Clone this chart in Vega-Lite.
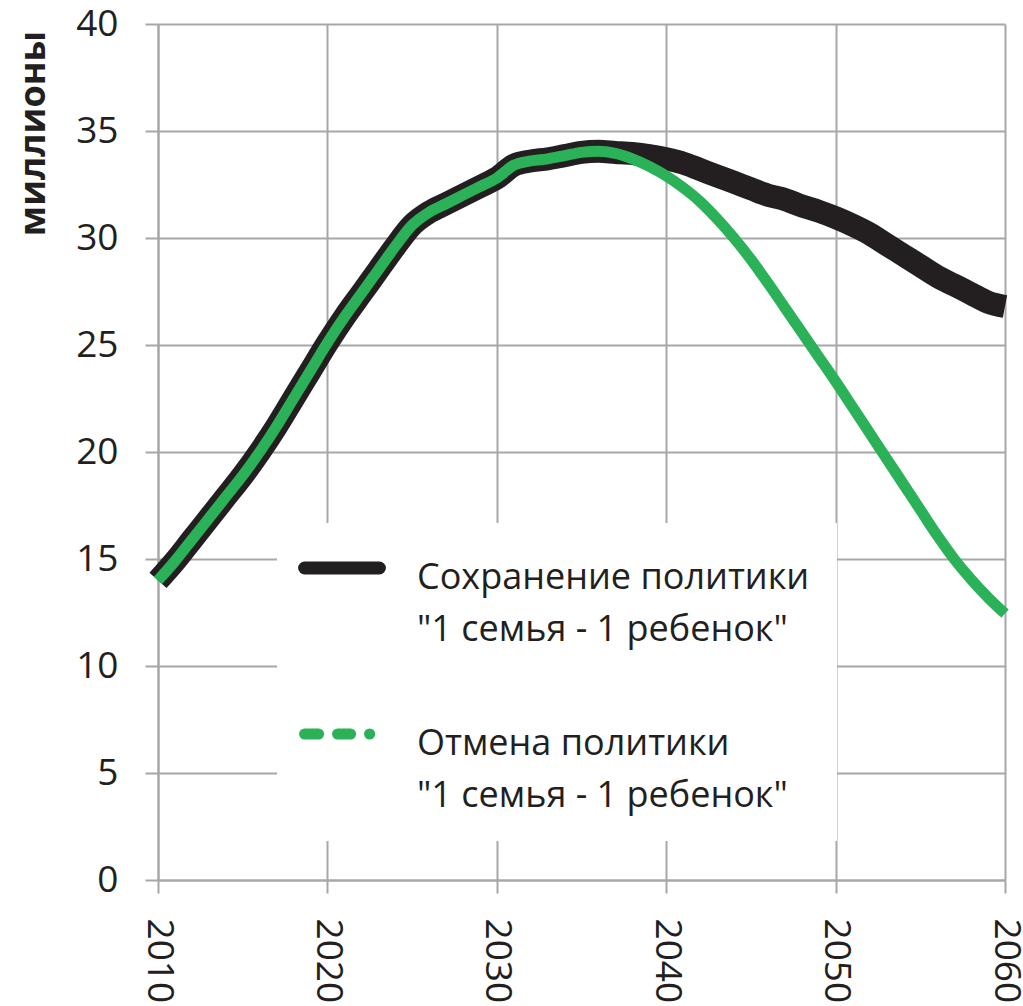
{
  "$schema": "https://vega.github.io/schema/vega-lite/v6.json",
  "autosize": "none",
  "width": 847,
  "height": 856,
  "padding": {"left": 158, "top": 24, "right": 18, "bottom": 126},
  "background": "white",
  "config": {
    "font": "Open Sans",
    "view": {"stroke": null},
    "axis": {
      "labelFont": "Open Sans",
      "labelFontSize": 37,
      "labelColor": "#231f20",
      "domainColor": "#a7a7a9",
      "domainWidth": 2,
      "tickColor": "#a7a7a9",
      "tickWidth": 2,
      "tickSize": 13,
      "gridColor": "#a7a7a9",
      "gridWidth": 2
    }
  },
  "data": {"values": [
    {"year": 2010, "s": "keep", "value": 14.0}, {"year": 2010, "s": "cancel", "value": 14.0},
    {"year": 2011, "s": "keep", "value": 14.9}, {"year": 2011, "s": "cancel", "value": 14.9},
    {"year": 2012, "s": "keep", "value": 15.9}, {"year": 2012, "s": "cancel", "value": 15.9},
    {"year": 2013, "s": "keep", "value": 16.9}, {"year": 2013, "s": "cancel", "value": 16.9},
    {"year": 2014, "s": "keep", "value": 17.9}, {"year": 2014, "s": "cancel", "value": 17.9},
    {"year": 2015, "s": "keep", "value": 18.9}, {"year": 2015, "s": "cancel", "value": 18.9},
    {"year": 2016, "s": "keep", "value": 20.0}, {"year": 2016, "s": "cancel", "value": 20.0},
    {"year": 2017, "s": "keep", "value": 21.2}, {"year": 2017, "s": "cancel", "value": 21.2},
    {"year": 2018, "s": "keep", "value": 22.5}, {"year": 2018, "s": "cancel", "value": 22.5},
    {"year": 2019, "s": "keep", "value": 23.8}, {"year": 2019, "s": "cancel", "value": 23.8},
    {"year": 2020, "s": "keep", "value": 25.1}, {"year": 2020, "s": "cancel", "value": 25.1},
    {"year": 2021, "s": "keep", "value": 26.3}, {"year": 2021, "s": "cancel", "value": 26.3},
    {"year": 2022, "s": "keep", "value": 27.4}, {"year": 2022, "s": "cancel", "value": 27.4},
    {"year": 2023, "s": "keep", "value": 28.5}, {"year": 2023, "s": "cancel", "value": 28.5},
    {"year": 2024, "s": "keep", "value": 29.6}, {"year": 2024, "s": "cancel", "value": 29.6},
    {"year": 2025, "s": "keep", "value": 30.6}, {"year": 2025, "s": "cancel", "value": 30.6},
    {"year": 2026, "s": "keep", "value": 31.2}, {"year": 2026, "s": "cancel", "value": 31.2},
    {"year": 2027, "s": "keep", "value": 31.6}, {"year": 2027, "s": "cancel", "value": 31.6},
    {"year": 2028, "s": "keep", "value": 32.0}, {"year": 2028, "s": "cancel", "value": 32.0},
    {"year": 2029, "s": "keep", "value": 32.4}, {"year": 2029, "s": "cancel", "value": 32.4},
    {"year": 2030, "s": "keep", "value": 32.8}, {"year": 2030, "s": "cancel", "value": 32.8},
    {"year": 2031, "s": "keep", "value": 33.4}, {"year": 2031, "s": "cancel", "value": 33.4},
    {"year": 2032, "s": "keep", "value": 33.6}, {"year": 2032, "s": "cancel", "value": 33.6},
    {"year": 2033, "s": "keep", "value": 33.7}, {"year": 2033, "s": "cancel", "value": 33.7},
    {"year": 2034, "s": "keep", "value": 33.85}, {"year": 2034, "s": "cancel", "value": 33.85},
    {"year": 2035, "s": "keep", "value": 34.0}, {"year": 2035, "s": "cancel", "value": 34.0},
    {"year": 2036, "s": "keep", "value": 34.05}, {"year": 2036, "s": "cancel", "value": 34.05},
    {"year": 2037, "s": "keep", "value": 34.0}, {"year": 2037, "s": "cancel", "value": 33.95},
    {"year": 2038, "s": "keep", "value": 33.95}, {"year": 2038, "s": "cancel", "value": 33.7},
    {"year": 2039, "s": "keep", "value": 33.85}, {"year": 2039, "s": "cancel", "value": 33.35},
    {"year": 2040, "s": "keep", "value": 33.7}, {"year": 2040, "s": "cancel", "value": 32.9},
    {"year": 2041, "s": "keep", "value": 33.5}, {"year": 2041, "s": "cancel", "value": 32.35},
    {"year": 2042, "s": "keep", "value": 33.2}, {"year": 2042, "s": "cancel", "value": 31.7},
    {"year": 2043, "s": "keep", "value": 32.9}, {"year": 2043, "s": "cancel", "value": 30.9},
    {"year": 2044, "s": "keep", "value": 32.6}, {"year": 2044, "s": "cancel", "value": 30.0},
    {"year": 2045, "s": "keep", "value": 32.3}, {"year": 2045, "s": "cancel", "value": 29.0},
    {"year": 2046, "s": "keep", "value": 32.0}, {"year": 2046, "s": "cancel", "value": 27.9},
    {"year": 2047, "s": "keep", "value": 31.8}, {"year": 2047, "s": "cancel", "value": 26.75},
    {"year": 2048, "s": "keep", "value": 31.5}, {"year": 2048, "s": "cancel", "value": 25.6},
    {"year": 2049, "s": "keep", "value": 31.25}, {"year": 2049, "s": "cancel", "value": 24.45},
    {"year": 2050, "s": "keep", "value": 30.95}, {"year": 2050, "s": "cancel", "value": 23.3},
    {"year": 2051, "s": "keep", "value": 30.6}, {"year": 2051, "s": "cancel", "value": 22.1},
    {"year": 2052, "s": "keep", "value": 30.2}, {"year": 2052, "s": "cancel", "value": 20.9},
    {"year": 2053, "s": "keep", "value": 29.7}, {"year": 2053, "s": "cancel", "value": 19.7},
    {"year": 2054, "s": "keep", "value": 29.2}, {"year": 2054, "s": "cancel", "value": 18.5},
    {"year": 2055, "s": "keep", "value": 28.7}, {"year": 2055, "s": "cancel", "value": 17.3},
    {"year": 2056, "s": "keep", "value": 28.2}, {"year": 2056, "s": "cancel", "value": 16.1},
    {"year": 2057, "s": "keep", "value": 27.8}, {"year": 2057, "s": "cancel", "value": 15.0},
    {"year": 2058, "s": "keep", "value": 27.4}, {"year": 2058, "s": "cancel", "value": 14.05},
    {"year": 2059, "s": "keep", "value": 27.0}, {"year": 2059, "s": "cancel", "value": 13.2},
    {"year": 2060, "s": "keep", "value": 26.8}, {"year": 2060, "s": "cancel", "value": 12.45}
  ]},
  "encoding": {
    "x": {
      "field": "year",
      "type": "quantitative",
      "scale": {"domain": [2010, 2060], "nice": false, "zero": false},
      "axis": {
        "orient": "bottom",
        "title": null,
        "values": [2010, 2020, 2030, 2040, 2050, 2060],
        "format": "d",
        "labelAngle": 90,
        "labelAlign": "left",
        "labelBaseline": "middle",
        "labelPadding": 25,
        "labelOverlap": false,
        "labelFlush": false,
        "grid": true
      }
    },
    "y": {
      "field": "value",
      "type": "quantitative",
      "scale": {"domain": [0, 40], "nice": false},
      "axis": {
        "title": "миллионы",
        "titleFont": "Open Sans",
        "titleFontSize": 36,
        "titleFontWeight": "bold",
        "titleColor": "#231f20",
        "titleAngle": -90,
        "titleAlign": "center",
        "titleBaseline": "middle",
        "titleX": -125,
        "titleY": 109,
        "values": [0, 5, 10, 15, 20, 25, 30, 35, 40],
        "labelPadding": 27,
        "grid": true
      }
    },
    "color": {
      "field": "s",
      "type": "nominal",
      "scale": {
        "domain": ["keep", "cancel"],
        "range": ["#231f20", "#2bb157"]
      },
      "legend": {
        "title": null,
        "orient": "none",
        "legendX": 119,
        "legendY": 499,
        "fillColor": "white",
        "padding": 27,
        "symbolType": "stroke",
        "symbolSize": 5600,
        "symbolOffset": 20,
        "labelFont": "Open Sans",
        "labelFontSize": 36,
        "labelColor": "#231f20",
        "labelOffset": 57,
        "labelBaseline": "middle",
        "labelLimit": 0,
        "rowPadding": 64,
        "labelExpr": "datum.value == 'keep' ? ['Сохранение политики', '\"1 семья - 1 ребенок\"'] : ['Отмена политики', '\"1 семья - 1 ребенок\"']",
        "encode": {
          "labels": {"update": {"lineHeight": {"value": 52}, "dy": {"value": 10}}},
          "symbols": {"update": {
            "strokeCap": {"value": "round"},
            "dy": {"value": 10},
            "strokeWidth": {"signal": "datum.value == 'keep' ? 13 : 11"},
            "strokeDash": {"signal": "datum.value == 'keep' ? [1, 0] : [14, 19, 13, 19, 0.1, 40]"}
          }}
        }
      }
    }
  },
  "layer": [
    {
      "transform": [{"filter": "datum.s == 'keep'"}],
      "mark": {"type": "line", "strokeWidth": 23, "interpolate": "monotone", "strokeCap": "butt", "strokeJoin": "round"}
    },
    {
      "transform": [{"filter": "datum.s == 'cancel'"}],
      "mark": {"type": "line", "strokeWidth": 11, "interpolate": "monotone", "strokeCap": "butt", "strokeJoin": "round"}
    }
  ]
}
